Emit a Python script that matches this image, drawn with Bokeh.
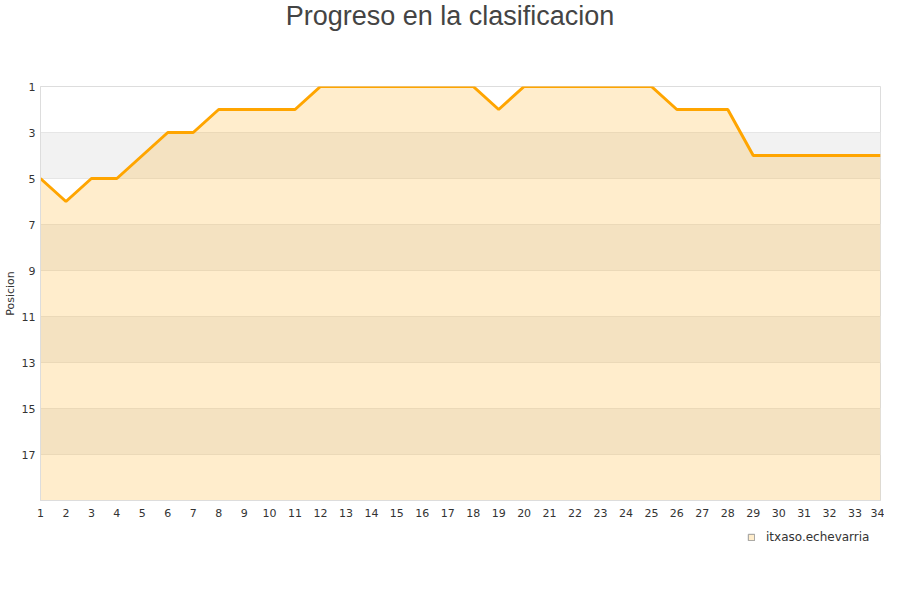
from bokeh.plotting import figure
from bokeh.models import Range1d, FixedTicker, Legend, LegendItem, Label
from bokeh.layouts import column
from bokeh.embed import file_html
from bokeh.resources import INLINE

titulo = "Progreso en la clasificacion"
jornadas = list(range(1, 35))
posicion = [5, 6, 5, 5, 4, 3, 3, 2, 2, 2, 2, 1, 1, 1, 1, 1, 1, 1, 2, 1,
            1, 1, 1, 1, 1, 2, 2, 2, 4, 4, 4, 4, 4, 4]
fondo = [19] * len(jornadas)
y_ticks = [1, 3, 5, 7, 9, 11, 13, 15, 17]
serie = "itxaso.echevarria"

W = 884

# title strip
tf = figure(width=W, height=80, output_backend="svg", toolbar_location=None,
            x_range=Range1d(0, W), y_range=Range1d(80, 0),
            min_border_left=0, min_border_right=0, min_border_top=0, min_border_bottom=0)
tf.axis.visible = False
tf.grid.visible = False
tf.outline_line_color = None
tf.background_fill_color = "white"
tf.border_fill_color = "white"
tf.add_layout(Label(x=431, y=15, text=titulo, text_align="center", text_baseline="alphabetic",
                    text_font="Liberation Sans", text_font_size="27px", text_color="#444444"))

# main chart
p = figure(width=W, height=446, output_backend="svg", toolbar_location=None,
           x_range=Range1d(1, 34), y_range=Range1d(19, 1),
           min_border_left=40, min_border_right=4, min_border_top=6, min_border_bottom=26)

p.outline_line_color = "#dddddd"
p.background_fill_color = "white"
p.border_fill_color = "white"

p.xgrid.visible = False
p.ygrid.ticker = FixedTicker(ticks=y_ticks + [19])
p.ygrid.grid_line_color = "#e6e6e6"
p.ygrid.band_fill_color = "#f2f2f2"
p.ygrid.band_fill_alpha = 1.0

p.xaxis.ticker = FixedTicker(ticks=jornadas)
p.yaxis.ticker = FixedTicker(ticks=y_ticks)
for ax in (p.xaxis[0], p.yaxis[0]):
    ax.axis_line_color = "#dddddd"
    ax.major_tick_line_color = None
    ax.minor_tick_line_color = None
    ax.major_tick_out = 0
    ax.major_tick_in = 0
    ax.major_label_standoff = 8
    ax.major_label_text_font = "DejaVu Sans"
    ax.major_label_text_font_size = "11px"
    ax.major_label_text_color = "#333333"
p.yaxis.major_label_standoff = 5
p.yaxis.axis_label = "Posicion"
p.yaxis.axis_label_text_font = "DejaVu Sans"
p.yaxis.axis_label_text_font_size = "11px"
p.yaxis.axis_label_text_font_style = "normal"
p.yaxis.axis_label_text_color = "#333333"
p.yaxis.axis_label_standoff = 2

p.varea(x=jornadas, y1=posicion, y2=fondo, fill_color="#ffa500", fill_alpha=0.2)
p.line(x=jornadas, y=posicion, line_color="#ffa500", line_width=3)

# legend strip below the chart
lg = figure(width=W, height=58, output_backend="svg", toolbar_location=None,
            x_range=Range1d(0, 1), y_range=Range1d(0, 1),
            min_border_left=0, min_border_right=0, min_border_top=0, min_border_bottom=0)
lg.axis.visible = False
lg.grid.visible = False
lg.outline_line_color = None
lg.background_fill_color = "white"
lg.border_fill_color = "white"
sq = lg.quad(left=[0], right=[0], top=[0], bottom=[0],
             fill_color="#ffedcc", line_color="#999999", visible=False)
legend = Legend(items=[LegendItem(label=serie, renderers=[sq])])
legend.border_line_color = None
legend.background_fill_alpha = 0
legend.label_text_font = "DejaVu Sans"
legend.label_text_font_size = "12px"
legend.label_text_color = "#333333"
legend.glyph_width = 8
legend.glyph_height = 8
legend.label_standoff = 11
legend.location = (707, 40)
legend.margin = 0
legend.padding = 4
lg.add_layout(legend, "center")

open("out.html", "w").write(file_html(column(tf, p, lg, spacing=0), INLINE))
